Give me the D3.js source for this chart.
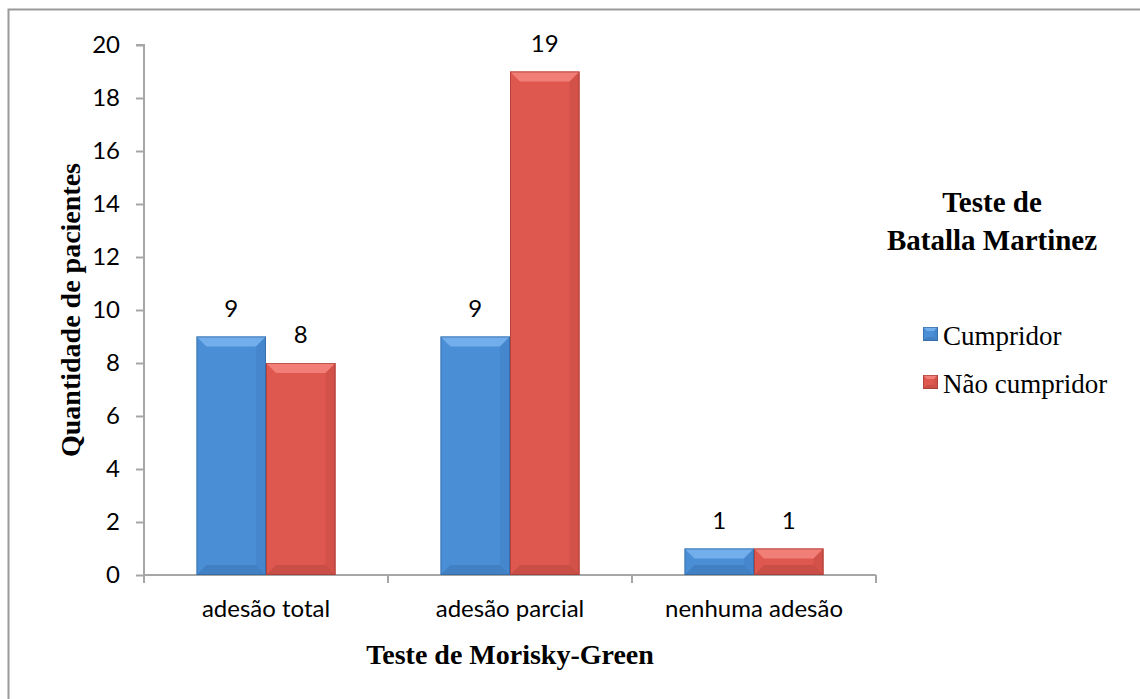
<!DOCTYPE html>
<html>
<head>
<meta charset="utf-8">
<script src="https://cdn.jsdelivr.net/npm/d3@7"></script>
<style>
  html, body { margin: 0; padding: 0; background: #fff; }
  svg { display: block; }
</style>
</head>
<body>
<svg id="chart" width="1140" height="699"></svg>
<script>
// Patients by Morisky-Green adherence level, split by Batalla Martinez result
const categories = ["adesão total", "adesão parcial", "nenhuma adesão"];
const seriesNames = ["Cumpridor", "Não cumpridor"];
const cumpridor = [9, 9, 1];
const naoCumpridor = [8, 19, 1];
const yTicks = [0, 2, 4, 6, 8, 10, 12, 14, 16, 18, 20];

const palette = [
  { main: "#4a8ed6", light: "#72adec", dark: "#4280c4", edge: "#2f5f96" },
  { main: "#df5850", light: "#f27f77", dark: "#c94e46", edge: "#983631" }
];

const sansFont = "Lato, 'Open Sans', sans-serif";
const serifFont = "'Liberation Serif', 'Times New Roman', serif";

const svg = d3.select("#chart");
const W = 1140, H = 699;
const margin = { left: 144, right: 264, top: 45, bottom: 124 };
const plotW = W - margin.left - margin.right;
const plotH = H - margin.top - margin.bottom;

// outer frame
svg.append("rect")
  .attr("x", 8.5).attr("y", 9.5)
  .attr("width", W + 20).attr("height", H + 20)
  .attr("fill", "none").attr("stroke", "#9a9a9a").attr("stroke-width", 2);

const g = svg.append("g").attr("transform", `translate(${margin.left},${margin.top})`);

const x0 = d3.scaleBand().domain(categories).range([0, plotW]).paddingInner(0.43).paddingOuter(0.215);
const x1 = d3.scaleBand().domain(seriesNames).range([0, x0.bandwidth()]);
const y = d3.scaleLinear().domain([0, 20]).range([plotH, 0]);

const data = categories.map((c, i) => ({
  cat: c,
  values: [
    { s: seriesNames[0], v: cumpridor[i], k: 0 },
    { s: seriesNames[1], v: naoCumpridor[i], k: 1 }
  ]
}));

// y axis
const yAxis = g.append("g")
  .call(d3.axisLeft(y).tickValues(yTicks).tickSize(8).tickPadding(16).tickFormat(d3.format("d")));
yAxis.select(".domain").attr("stroke", "#a6a6a6").attr("stroke-width", 2).attr("d", `M-8,0H0V${plotH}`);
yAxis.selectAll(".tick line").attr("stroke", "#a6a6a6").attr("stroke-width", 2);
yAxis.selectAll(".tick text").attr("font-family", sansFont).attr("font-size", 24).attr("fill", "#000");

// x axis with boundary ticks between categories
const xAxisG = g.append("g").attr("transform", `translate(0,${plotH})`);
xAxisG.append("line").attr("x1", 0).attr("x2", plotW).attr("stroke", "#a6a6a6").attr("stroke-width", 2);
const step = plotW / categories.length;
xAxisG.selectAll("line.bt").data(d3.range(categories.length + 1)).join("line")
  .attr("class", "bt")
  .attr("x1", d => d * step).attr("x2", d => d * step)
  .attr("y1", 0).attr("y2", 8)
  .attr("stroke", "#a6a6a6").attr("stroke-width", 2);
xAxisG.selectAll("text.cat").data(categories).join("text")
  .attr("class", "cat")
  .attr("x", d => x0(d) + x0.bandwidth() / 2)
  .attr("y", 42)
  .attr("text-anchor", "middle")
  .attr("font-family", sansFont).attr("font-size", 24)
  .text(d => d);

// bevelled bars
function bevelBar(sel, px, py, w, h, col, bevel) {
  const b = Math.min(bevel, h / 2, w / 2);
  sel.append("rect").attr("x", px).attr("y", py).attr("width", w).attr("height", h).attr("fill", col.main);
  // top facet
  sel.append("path").attr("fill", col.light)
    .attr("d", `M${px},${py}L${px + w},${py}L${px + w - b},${py + b}L${px + b},${py + b}Z`);
  // bottom facet
  sel.append("path").attr("fill", col.dark)
    .attr("d", `M${px},${py + h}L${px + w},${py + h}L${px + w - b},${py + h - b}L${px + b},${py + h - b}Z`);
  // right facet
  sel.append("path").attr("fill", col.dark).attr("opacity", 0.6)
    .attr("d", `M${px + w},${py}L${px + w - b},${py + b}L${px + w - b},${py + h - b}L${px + w},${py + h}Z`);
  sel.append("rect").attr("x", px + 0.5).attr("y", py + 0.5).attr("width", w - 1).attr("height", h - 1)
    .attr("fill", "none").attr("stroke", col.edge).attr("stroke-width", 1).attr("opacity", 0.6);
}

const groups = g.selectAll("g.grp").data(data).join("g")
  .attr("class", "grp")
  .attr("transform", d => `translate(${x0(d.cat)},0)`);

groups.each(function (d) {
  const grp = d3.select(this);
  d.values.forEach(item => {
    const bx = x1(item.s), bw = x1.bandwidth();
    const by = y(item.v), bh = y(0) - y(item.v);
    bevelBar(grp.append("g"), bx, by, bw, bh, palette[item.k], 10);
    grp.append("text")
      .attr("x", bx + bw / 2).attr("y", by - 20)
      .attr("text-anchor", "middle")
      .attr("font-family", sansFont).attr("font-size", 24)
      .text(item.v);
  });
});

// axis titles
svg.append("text")
  .attr("x", margin.left + plotW / 2).attr("y", 664)
  .attr("text-anchor", "middle")
  .attr("font-family", serifFont).attr("font-weight", "bold").attr("font-size", 28)
  .text("Teste de Morisky-Green");

svg.append("text")
  .attr("transform", `translate(80,${margin.top + plotH / 2}) rotate(-90)`)
  .attr("text-anchor", "middle")
  .attr("font-family", serifFont).attr("font-weight", "bold").attr("font-size", 28)
  .text("Quantidade de pacientes");

// legend
const legend = svg.append("g");
legend.append("text")
  .attr("x", 992).attr("y", 212)
  .attr("text-anchor", "middle")
  .attr("font-family", serifFont).attr("font-weight", "bold").attr("font-size", 29)
  .selectAll("tspan").data(["Teste de", "Batalla Martinez"]).join("tspan")
  .attr("x", 992).attr("dy", (d, i) => i === 0 ? 0 : 38)
  .text(d => d);

const items = legend.selectAll("g.item").data(seriesNames).join("g")
  .attr("class", "item")
  .attr("transform", (d, i) => `translate(923,${327 + i * 48})`);
items.each(function (d, i) {
  bevelBar(d3.select(this).append("g"), 0, 0, 15, 14, palette[i], 4);
});
items.append("text")
  .attr("x", 20).attr("y", 18)
  .attr("font-family", serifFont).attr("font-size", 27)
  .text(d => d);
</script>
</body>
</html>
